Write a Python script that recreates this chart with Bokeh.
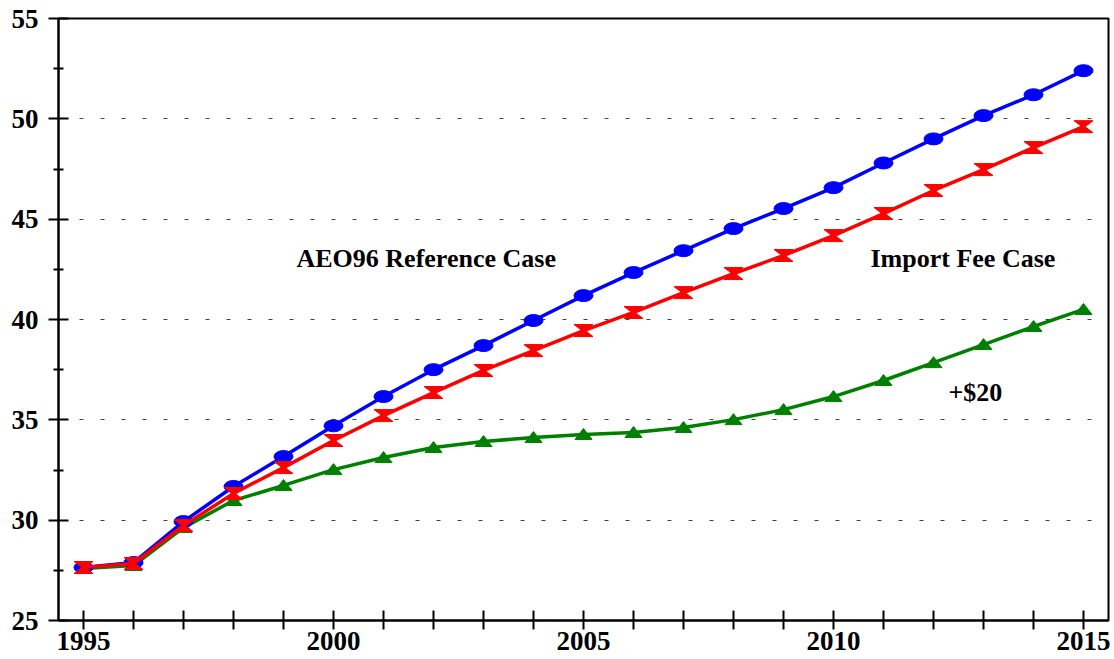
from bokeh.plotting import figure
from bokeh.models import FixedTicker, Label, Range1d
from bokeh.embed import file_html
from bokeh.resources import INLINE

years = list(range(1995, 2016))
reference_case = [27.64, 27.89, 29.93, 31.68, 33.17, 34.70, 36.16, 37.50, 38.70, 39.95,
                  41.19, 42.34, 43.43, 44.53, 45.53, 46.57, 47.80, 49.00, 50.16, 51.20, 52.40]
import_fee_case = [27.64, 27.84, 29.73, 31.33, 32.62, 33.97, 35.21, 36.36, 37.46, 38.45,
                   39.45, 40.35, 41.34, 42.29, 43.19, 44.18, 45.28, 46.43, 47.47, 48.57, 49.61]
plus_20_case = [27.59, 27.74, 29.63, 30.98, 31.73, 32.52, 33.12, 33.62, 33.92, 34.12,
                34.27, 34.37, 34.62, 35.01, 35.51, 36.16, 36.96, 37.85, 38.75, 39.65, 40.50]
y_ticks = [25, 30, 35, 40, 45, 50, 55]
y_minor = [27.5, 32.5, 37.5, 42.5, 47.5, 52.5]
x_labels = {1995: "1995", 2000: "2000", 2005: "2005", 2010: "2010", 2015: "2015"}

FONT = "Liberation Serif"

p = figure(width=1114, height=659, output_backend="svg", toolbar_location=None,
           x_range=Range1d(1994.5, 2015.5), y_range=Range1d(25, 55),
           frame_width=1050, frame_height=602,
           min_border_left=58, min_border_top=18, min_border_right=6, min_border_bottom=39)
p.background_fill_color = "white"
p.border_fill_color = "white"
p.outline_line_color = "black"
p.outline_line_width = 2

# axes
p.xaxis.ticker = FixedTicker(ticks=years, minor_ticks=[])
p.xaxis.major_label_overrides = {y: x_labels.get(y, "") for y in years}
p.yaxis.ticker = FixedTicker(ticks=y_ticks, minor_ticks=y_minor)
for ax in (p.xaxis[0], p.yaxis[0]):
    ax.axis_line_color = "black"
    ax.axis_line_width = 2
    ax.major_tick_line_color = "black"
    ax.major_tick_line_width = 2
    ax.major_label_text_font = FONT
    ax.major_label_text_font_style = "bold"
    ax.major_label_text_font_size = "27px"
    ax.major_label_text_color = "black"
p.xaxis.major_tick_in = 10
p.xaxis.major_tick_out = 9
p.xaxis.major_label_standoff = 2
p.yaxis.major_tick_in = 10
p.yaxis.major_tick_out = 10
p.yaxis.minor_tick_in = 5
p.yaxis.minor_tick_out = 5
p.yaxis.minor_tick_line_color = "black"
p.yaxis.minor_tick_line_width = 2
p.yaxis.major_label_standoff = 10

p.xgrid.grid_line_color = None
p.ygrid.grid_line_color = "#444444"
p.ygrid.grid_line_width = 1
p.ygrid.grid_line_dash = "4 17"

# marker half-sizes in data units (from screen px)
px_x = 1050 / 21.0
px_y = 602 / 30.0

# green: +$20 case with triangles
p.line(years, plus_20_case, line_color="#008000", line_width=3.5)
tdx = 8.5 / px_x
tlo = 5 / px_y
thi = 6 / px_y
p.patches([[x - tdx, x + tdx, x] for x in years],
          [[y - tlo, y - tlo, y + thi] for y in plus_20_case],
          fill_color="#008000", line_color="#008000", line_width=1)

# blue: reference case with ellipses
p.line(years, reference_case, line_color="#0000ff", line_width=3.5)
p.ellipse(years, reference_case, width=19, height=12, width_units="screen",
          height_units="screen", fill_color="#0000ff", line_color="#0000ff")

# red: import fee case with hourglass markers
p.line(years, import_fee_case, line_color="#ff0000", line_width=3.5)
hdx = 9.5 / px_x
hdy = 6 / px_y
wdx = 1.5 / px_x
p.patches([[x - hdx, x + hdx, x + wdx, x + hdx, x - hdx, x - wdx] for x in years],
          [[y + hdy, y + hdy, y, y - hdy, y - hdy, y] for y in import_fee_case],
          fill_color="#ff0000", line_color="#ff0000", line_width=1)

# annotations
for txt, lx, ly in [("AEO96 Reference Case", 1999.26, 43.04),
                    ("Import Fee Case", 2010.74, 43.04),
                    ("+$20", 2012.3, 36.36)]:
    p.add_layout(Label(x=lx, y=ly, text=txt, text_font=FONT, text_font_style="bold",
                       text_font_size="26px", text_color="black",
                       text_align="left", text_baseline="middle"))

open("out.html", "w").write(file_html(p, INLINE))
